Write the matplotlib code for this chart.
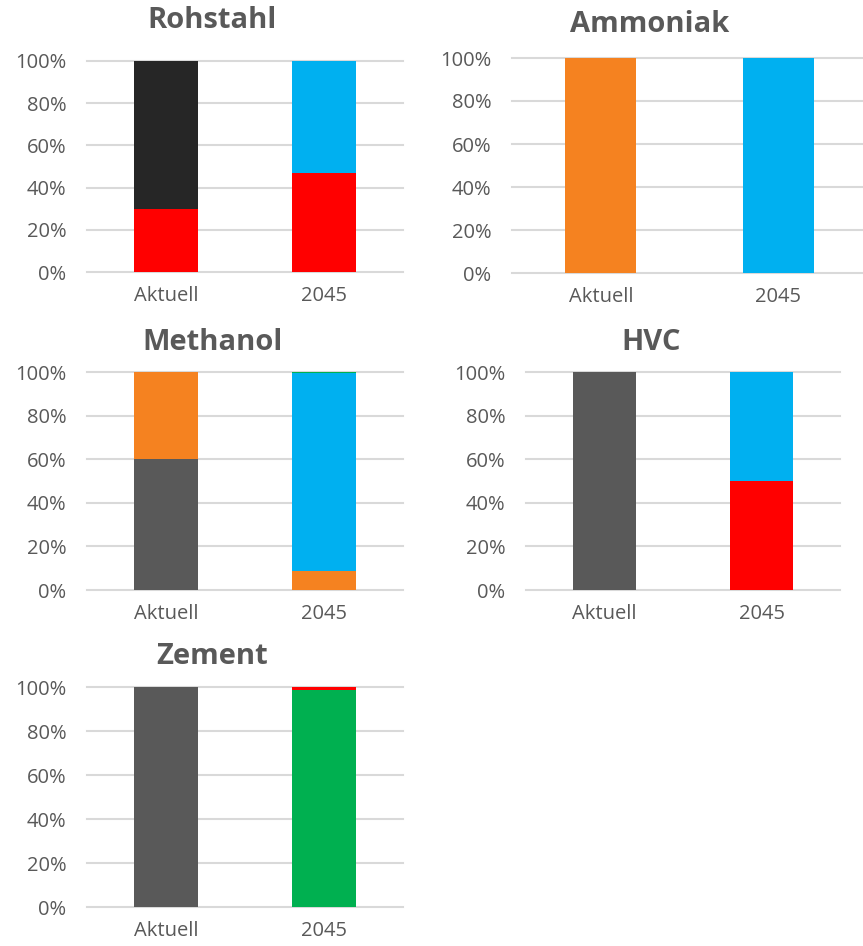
import matplotlib
matplotlib.use("Agg")
import matplotlib.pyplot as plt
from matplotlib.ticker import PercentFormatter

plt.rcParams["font.family"] = ["Open Sans", "DejaVu Sans"]

W, H = 863, 946
TXT = "#595959"
GRID = "#d9d9d9"

RED = "#ff0000"
BLUE = "#00b0f0"
ORANGE = "#f58220"
GREY = "#595959"
BLACK = "#262626"
GREEN = "#00b050"

categories = ["Aktuell", "2045"]
yticks = [0, 0.2, 0.4, 0.6, 0.8, 1.0]

# segment shares per product, listed bottom to top
rohstahl_values = [[0.30, 0.47], [0.70, 0.0], [0.0, 0.53]]
rohstahl_colors = [RED, BLACK, BLUE]

ammoniak_values = [[1.0, 0.0], [0.0, 1.0]]
ammoniak_colors = [ORANGE, BLUE]

methanol_values = [[0.60, 0.0], [0.40, 0.085], [0.0, 0.91], [0.0, 0.005]]
methanol_colors = [GREY, ORANGE, BLUE, GREEN]

hvc_values = [[1.0, 0.0], [0.0, 0.50], [0.0, 0.50]]
hvc_colors = [GREY, RED, BLUE]

zement_values = [[1.0, 0.0], [0.0, 0.988], [0.0, 0.012]]
zement_colors = [GREY, GREEN, RED]

fig = plt.figure(figsize=(W / 100, H / 100), dpi=100)


def panel(title, values, colors, left, right, top, bottom, title_x, title_y):
    ax = fig.add_axes([left / W, 1 - bottom / H, (right - left) / W, (bottom - top) / H])
    base = [0.0] * len(categories)
    for vals, col in zip(values, colors):
        ax.bar(range(len(categories)), vals, bottom=base, width=0.4, color=col,
               zorder=3, linewidth=0)
        base = [b + v for b, v in zip(base, vals)]
    ax.set_xlim(-0.5, len(categories) - 0.5)
    ax.set_ylim(0, 1.0)
    ax.set_yticks(yticks)
    ax.yaxis.set_major_formatter(PercentFormatter(1.0, decimals=0))
    ax.set_xticks(range(len(categories)))
    ax.set_xticklabels(categories)
    ax.grid(axis="y", color=GRID, linewidth=1.5, zorder=0)
    for gl in ax.get_ygridlines():
        gl.set_clip_on(False)
    for s in ax.spines.values():
        s.set_visible(False)
    ax.tick_params(axis="y", length=0, pad=15, labelsize=14.5, labelcolor=TXT)
    ax.tick_params(axis="x", length=0, pad=10, labelsize=14.5, labelcolor=TXT)
    fig.text(title_x / W, 1 - title_y / H, title, ha="center", va="center",
             fontsize=21, fontweight="bold", color=TXT)


panel("Rohstahl", rohstahl_values, rohstahl_colors, 87, 403, 61, 272, 212, 21)
panel("Ammoniak", ammoniak_values, ammoniak_colors, 512, 867, 58, 273, 650, 24)
panel("Methanol", methanol_values, methanol_colors, 87, 403, 372, 590, 212, 342)
panel("HVC", hvc_values, hvc_colors, 526, 840, 372, 590, 651, 342)
panel("Zement", zement_values, zement_colors, 87, 403, 687, 907, 212, 656)

fig.savefig("out.png", dpi=100, facecolor="white")
